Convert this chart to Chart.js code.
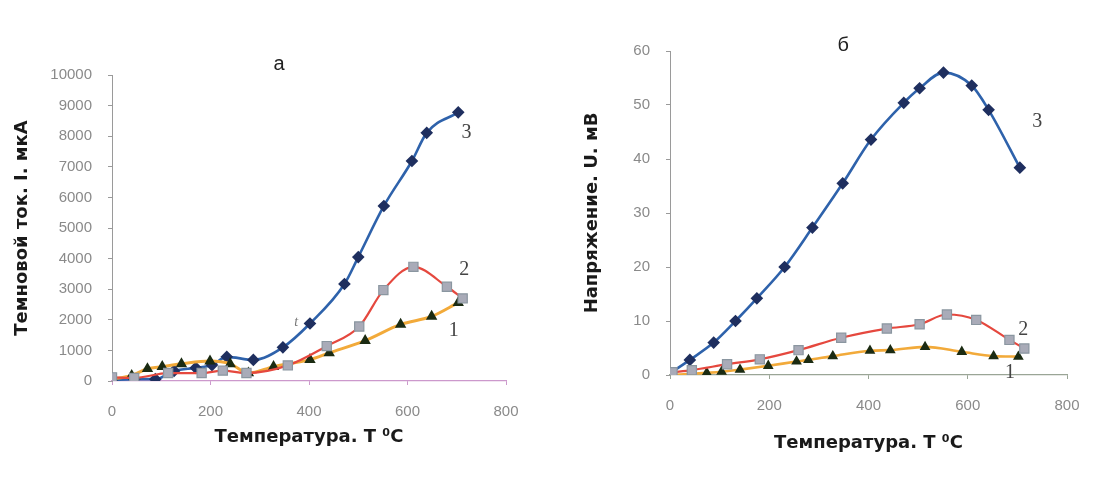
<!DOCTYPE html>
<html>
<head>
<meta charset="utf-8">
<script src="https://cdn.jsdelivr.net/npm/chart.js@4/dist/chart.umd.min.js"></script>
<style>
  html, body { margin: 0; padding: 0; background: #fff; }
  #wrap { position: relative; width: 1102px; height: 500px; }
  canvas { position: absolute; top: 0; }
  #chartA { left: 0; }
  #chartB { left: 551px; }
</style>
</head>
<body>
<div id="wrap">
  <canvas id="chartA" width="551" height="500"></canvas>
  <canvas id="chartB" width="551" height="500"></canvas>
</div>
<script>
// Panel а: dark current vs temperature, curves 1..3
const tempA1 = [0, 40, 72, 102, 141, 199, 240, 277, 328, 402, 441, 514, 586, 649, 703];
const currA1 = [60, 180, 400, 470, 560, 650, 560, 260, 470, 700, 920, 1320, 1850, 2110, 2560];
const tempA2 = [0, 45, 114, 182, 225, 273, 357, 436, 502, 551, 612, 680, 712];
const currA2 = [120, 100, 260, 260, 340, 260, 510, 1140, 1780, 2970, 3730, 3080, 2700];
const tempA3 = [0, 45, 88, 126, 170, 203, 233, 287, 347, 402, 472, 500, 552, 609, 639, 703];
const currA3 = [30, 60, 60, 330, 430, 520, 790, 690, 1100, 1880, 3170, 4050, 5720, 7190, 8110, 8780];

// Panel б: voltage vs temperature, curves 1..3
const tempB1 = [5, 74, 104, 141, 198, 255, 279, 328, 403, 444, 514, 588, 652, 702];
const voltB1 = [0, 0.4, 0.6, 1.0, 1.7, 2.5, 2.8, 3.5, 4.5, 4.6, 5.2, 4.3, 3.5, 3.4];
const tempB2 = [5, 44, 115, 181, 259, 345, 437, 503, 558, 617, 684, 714];
const voltB2 = [0.5, 0.9, 2.0, 2.9, 4.6, 6.9, 8.6, 9.4, 11.2, 10.2, 6.5, 4.9];
const tempB3 = [0, 40, 88, 132, 175, 231, 287, 348, 405, 471, 503, 551, 608, 642, 705];
const voltB3 = [0.3, 2.8, 6.0, 10.0, 14.2, 20.0, 27.3, 35.5, 43.6, 50.4, 53.1, 56.0, 53.6, 49.1, 38.4];

// text placed in data units of each panel
const notesA = [
  { text: 'а', t: 339, v: 10330, font: '20px "Liberation Sans", Arial', color: '#222' },
  { text: '3', t: 720, v: 8100, font: '20px "Liberation Serif", serif', color: '#444' },
  { text: '2', t: 715, v: 3630, font: '20px "Liberation Serif", serif', color: '#444' },
  { text: '1', t: 694, v: 1630, font: '20px "Liberation Serif", serif', color: '#444' },
  { text: 't', t: 374, v: 1930, font: 'italic 14px "Liberation Serif", serif', color: '#777' }
];
const notesB = [
  { text: 'б', t: 349, v: 61, font: '20px "Liberation Sans", Arial', color: '#222' },
  { text: '3', t: 740, v: 46.9, font: '20px "Liberation Serif", serif', color: '#444' },
  { text: '2', t: 712, v: 8.3, font: '20px "Liberation Serif", serif', color: '#444' },
  { text: '1', t: 685, v: 0.4, font: '20px "Liberation Serif", serif', color: '#444' }
];

const tickFont = { family: '"Liberation Sans", Arial, sans-serif', size: 15 };
const titleFont = { family: '"DejaVu Sans", sans-serif', size: 18, weight: 'bold' };

function pts(xs, ys) {
  return xs.map((x, i) => ({ x, y: ys[i] }));
}

// smooth lines like a spreadsheet "smoothed line" series
const smooth = { showLine: true, cubicInterpolationMode: 'monotone' };

function curve1(data, width) {
  return {
    data, ...smooth,
    borderColor: '#f2aa3a', borderWidth: width,
    pointStyle: 'triangle', pointRadius: 3.6,
    pointBackgroundColor: '#1b2b12', pointBorderColor: '#1b2b12'
  };
}
function curve2(data) {
  return {
    data, ...smooth,
    borderColor: '#e5483e', borderWidth: 2.2,
    pointStyle: 'rect', pointRadius: 6.5,
    pointBackgroundColor: '#a9abb8', pointBorderColor: '#8a96a0', pointBorderWidth: 1.2
  };
}
function curve3(data) {
  return {
    data, ...smooth,
    borderColor: '#2e62ab', borderWidth: 2.6,
    pointStyle: 'rectRot', pointRadius: 4.5,
    pointBackgroundColor: '#1f2f5f', pointBorderColor: '#1f2f5f'
  };
}

const notesPlugin = {
  id: 'notes',
  afterDatasetsDraw(chart, args, opts) {
    const { ctx, scales } = chart;
    ctx.save();
    ctx.textAlign = 'center';
    ctx.textBaseline = 'middle';
    opts.items.forEach(n => {
      ctx.font = n.font;
      ctx.fillStyle = n.color;
      ctx.fillText(n.text, scales.x.getPixelForValue(n.t), scales.y.getPixelForValue(n.v));
    });
    ctx.restore();
  }
};

function makeChart(id, cfg) {
  return new Chart(document.getElementById(id), {
    type: 'scatter',
    data: { datasets: cfg.datasets },
    plugins: [notesPlugin],
    options: {
      responsive: false,
      animation: false,
      devicePixelRatio: 1,
      layout: { padding: { left: 0, top: cfg.top, right: cfg.right, bottom: 0 } },
      plugins: {
        legend: { display: false },
        tooltip: { enabled: false },
        notes: { items: cfg.notes }
      },
      scales: {
        x: {
          type: 'linear', min: 0, max: 800,
          afterFit: s => { s.height = cfg.xHeight; },
          border: { color: cfg.xColor, width: 1.2 },
          grid: { drawOnChartArea: false, color: cfg.xColor, tickLength: 4 },
          ticks: { stepSize: 200, color: '#8a8a8a', font: tickFont, padding: 18 },
          title: { display: true, text: 'Температура. T ⁰C', color: '#1a1a1a', font: titleFont,
                   padding: { top: 0, bottom: cfg.xTitlePad } }
        },
        y: {
          min: 0, max: cfg.yMax,
          afterFit: s => { s.width = cfg.yWidth; },
          border: { color: '#9a9a9a', width: 1 },
          grid: { drawOnChartArea: false, color: '#9a9a9a', tickLength: 4 },
          ticks: { stepSize: cfg.yStep, color: '#8a8a8a', font: tickFont, padding: 16,
                   callback: v => String(v) },
          title: { display: true, text: cfg.yTitle, color: '#1a1a1a', font: titleFont,
                   padding: { top: cfg.yTitlePad, bottom: 0 } }
        }
      }
    }
  });
}

makeChart('chartA', {
  datasets: [curve2(pts(tempA2, currA2)), curve1(pts(tempA1, currA1), 3), curve3(pts(tempA3, currA3))],
  notes: notesA,
  top: 75, right: 45, xHeight: 119, yWidth: 112,
  xColor: '#cc99cc', xTitlePad: 52, yTitlePad: 12,
  yMax: 10000, yStep: 1000, yTitle: 'Темновой ток. I. мкА'
});

makeChart('chartB', {
  datasets: [curve2(pts(tempB2, voltB2)), curve1(pts(tempB1, voltB1), 2.6), curve3(pts(tempB3, voltB3))],
  notes: notesB,
  top: 51, right: 35, xHeight: 125, yWidth: 119,
  xColor: '#9aa596', xTitlePad: 46, yTitlePad: 31,
  yMax: 60, yStep: 10, yTitle: 'Напряжение. U. мВ'
});
</script>
</body>
</html>
